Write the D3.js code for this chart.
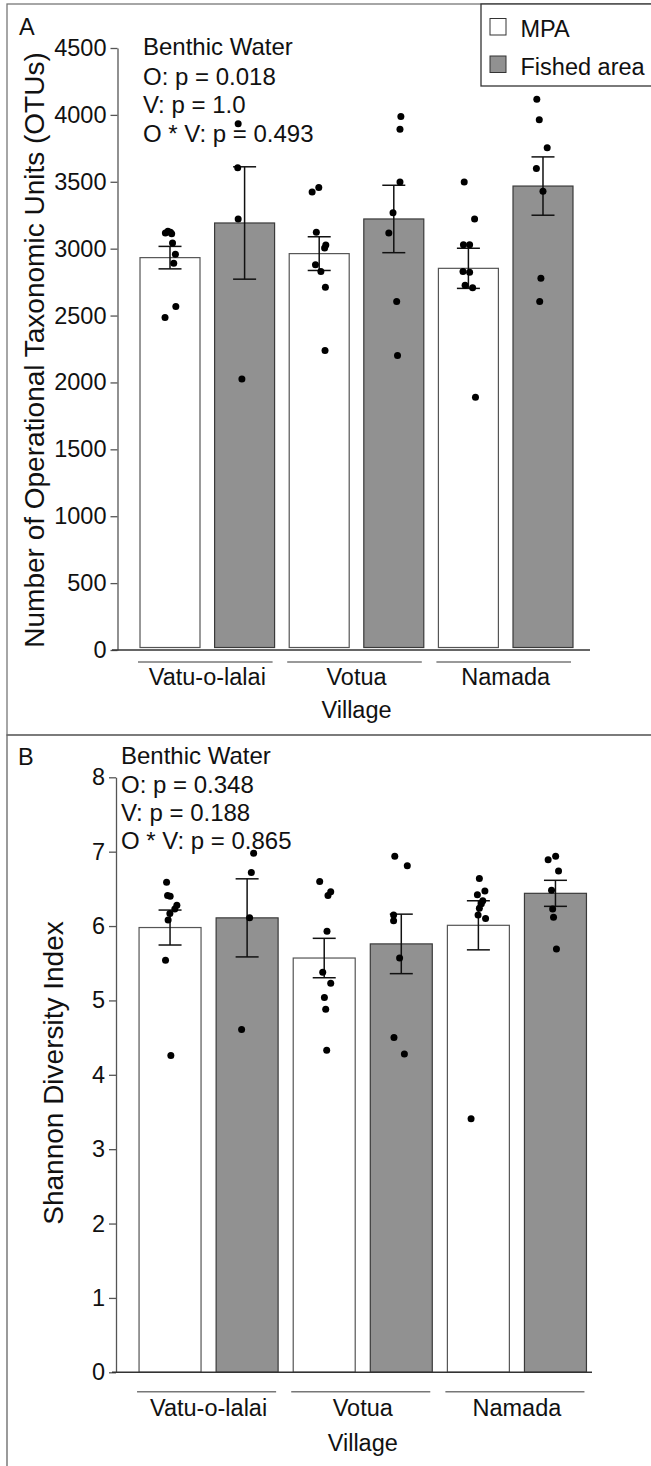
<!DOCTYPE html>
<html>
<head>
<meta charset="utf-8">
<script src="https://cdn.jsdelivr.net/npm/d3@7"></script>
<style>
  html, body { margin: 0; padding: 0; background: #fff; }
  svg { display: block; }
  text { font-family: "Liberation Sans", Arial, Helvetica, sans-serif; fill: #111; }
</style>
</head>
<body>
<svg id="fig" width="651" height="1466"></svg>
<script>
// ---- data -------------------------------------------------------------
const villages = ["Vatu-o-lalai", "Votua", "Namada"];
const sites = ["MPA", "Fished area"];

// Panel A: number of OTUs
const otuTicks = [0, 500, 1000, 1500, 2000, 2500, 3000, 3500, 4000, 4500];
const otuMeanMPA = [2933, 2963, 2853];
const otuMeanFished = [3192, 3222, 3468];
const otuSeMPA = [84, 126, 150];
const otuSeFished = [420, 252, 218];
const otuSamplesMPA = [
  [3117, 3122, 3130, 3112, 3043, 2958, 2891, 2567, 2485],
  [3423, 3457, 3122, 3028, 3005, 2880, 2830, 2711, 2238],
  [3498, 3222, 3030, 3030, 2829, 2824, 2727, 2707, 1890]
];
const otuSamplesFished = [
  [3933, 3605, 3222, 2025],
  [3988, 3893, 3498, 3269, 3117, 2605, 2201],
  [4117, 3963, 3754, 3599, 3430, 2779, 2605]
];
// horizontal jitter of the sample points, as a fraction of bar width
const otuJitterMPA = [
  [-0.077, 0.007, -0.035, 0.028, 0.042, 0.09, 0.062, 0.097, -0.083],
  [-0.118, -0.007, -0.048, 0.11, 0.09, -0.062, 0.028, 0.103, 0.097],
  [-0.07, 0.103, -0.083, 0.02, -0.09, 0.02, -0.055, 0.07, 0.118]
];
const otuJitterFished = [
  [-0.107, -0.115, -0.107, -0.045],
  [0.118, 0.103, 0.103, -0.013, -0.083, 0.048, 0.062],
  [-0.103, -0.062, 0.07, -0.11, 0, -0.035, -0.055]
];
const otuStats = ["Benthic Water", "O: p = 0.018", "V: p = 1.0", "O * V: p = 0.493"];

// Panel B: Shannon diversity
const shannonTicks = [0, 1, 2, 3, 4, 5, 6, 7, 8];
const shannonMeanMPA = [5.98, 5.57, 6.01];
const shannonMeanFished = [6.11, 5.76, 6.44];
const shannonSeMPA = [0.235, 0.265, 0.33];
const shannonSeFished = [0.525, 0.40, 0.175];
const shannonSamplesMPA = [
  [6.59, 6.41, 6.40, 6.28, 6.23, 6.17, 6.08, 5.54, 4.26],
  [6.60, 6.46, 6.41, 5.93, 5.38, 5.23, 5.04, 4.88, 4.33],
  [6.64, 6.47, 6.42, 6.34, 6.30, 6.24, 6.15, 6.10, 3.41]
];
const shannonSamplesFished = [
  [6.98, 6.72, 6.11, 4.61],
  [6.94, 6.81, 6.15, 6.07, 5.57, 4.50, 4.28],
  [6.94, 6.89, 6.74, 6.48, 6.23, 6.12, 5.69]
];
const shannonJitterMPA = [
  [-0.056, -0.04, 0.002, 0.11, 0.077, -0.003, -0.031, -0.073, 0.013],
  [-0.073, 0.105, 0.061, 0.045, -0.024, 0.105, 0.003, 0.024, 0.04],
  [0.016, 0.105, -0.016, 0.071, 0.048, 0.016, -0.005, 0.116, -0.118]
];
const shannonJitterFished = [
  [0.105, 0.068, 0.04, -0.089],
  [-0.105, 0.097, -0.124, -0.124, -0.027, -0.118, 0.05],
  [0.003, -0.118, 0.05, -0.063, -0.045, -0.031, 0.016]
];
const shannonStats = ["Benthic Water", "O: p = 0.348", "V: p = 0.188", "O * V: p = 0.865"];

// ---- drawing ----------------------------------------------------------
const svg = d3.select("#fig");
const FILL = { "MPA": "#ffffff", "Fished area": "#919191" };
const EDGE = { "MPA": "#555555", "Fished area": "#3a3a3a" };
const FONT = 23.5;

// outer frames of the two panels
svg.append("rect").attr("x", 7).attr("y", 4).attr("width", 700).attr("height", 731)
  .attr("fill", "none").attr("stroke", "#777").attr("stroke-width", 1.3);
svg.append("rect").attr("x", 7).attr("y", 735).attr("width", 700).attr("height", 800)
  .attr("fill", "none").attr("stroke", "#666").attr("stroke-width", 1.3);

function panel(cfg) {
  const g = svg.append("g");
  const y = d3.scaleLinear().domain(cfg.domain).range([cfg.yBottom, cfg.yTop]);
  const xv = d3.scaleBand().domain(villages).range(cfg.xRange).padding(0);
  const xs = d3.scaleBand().domain(sites).range([0, xv.bandwidth()])
    .paddingInner(0.1957).paddingOuter(0.098);
  const bw = xs.bandwidth();

  const groups = villages.map((v, i) => ({
    village: v,
    items: [
      { site: "MPA", mean: cfg.meanMPA[i], se: cfg.seMPA[i], pts: cfg.ptsMPA[i], jit: cfg.jitMPA[i] },
      { site: "Fished area", mean: cfg.meanF[i], se: cfg.seF[i], pts: cfg.ptsF[i], jit: cfg.jitF[i] }
    ]
  }));

  // bars
  const vg = g.selectAll("g.village").data(groups).join("g")
    .attr("class", "village")
    .attr("transform", d => `translate(${xv(d.village)},0)`);
  const item = vg.selectAll("g.item").data(d => d.items).join("g").attr("class", "item");
  item.append("rect")
    .attr("x", d => xs(d.site))
    .attr("y", d => y(d.mean))
    .attr("width", bw)
    .attr("height", d => y(0) - y(d.mean) - cfg.barGap)
    .attr("fill", d => FILL[d.site])
    .attr("stroke", d => EDGE[d.site])
    .attr("stroke-width", 1.2);

  // standard-error whiskers
  const cap = 11.5;
  item.each(function(d) {
    const cx = xs(d.site) + bw / 2;
    const s = d3.select(this);
    const lo = y(d.mean - d.se), hi = y(d.mean + d.se);
    s.append("line").attr("x1", cx).attr("x2", cx).attr("y1", lo).attr("y2", hi)
      .attr("stroke", "#111").attr("stroke-width", 1.5);
    [lo, hi].forEach(yy => s.append("line")
      .attr("x1", cx - cap).attr("x2", cx + cap).attr("y1", yy).attr("y2", yy)
      .attr("stroke", "#111").attr("stroke-width", 1.5));
  });

  // sample points
  item.each(function(d) {
    const cx = xs(d.site) + bw / 2;
    d3.select(this).selectAll("circle").data(d.pts.map((v, k) => ({ v, j: d.jit[k] })))
      .join("circle")
      .attr("cx", p => cx + p.j * bw)
      .attr("cy", p => y(p.v))
      .attr("r", 3.5)
      .attr("fill", "#000");
  });

  // y axis
  const ax = g.append("g").attr("transform", `translate(${cfg.axisX},0)`)
    .call(d3.axisLeft(y).tickValues(cfg.ticks).tickSize(7).tickSizeOuter(0).tickPadding(4)
      .tickFormat(d3.format("d")));
  ax.select(".domain").attr("stroke", "#555").attr("stroke-width", 1.3);
  ax.selectAll(".tick line").attr("stroke", "#555").attr("stroke-width", 1.3);
  ax.selectAll(".tick text").attr("font-size", FONT).attr("fill", "#111")
    .attr("font-family", "Liberation Sans, Arial, sans-serif");

  // x baseline
  g.append("line").attr("x1", cfg.xLine[0]).attr("x2", cfg.xLine[1])
    .attr("y1", y(0)).attr("y2", y(0)).attr("stroke", "#333").attr("stroke-width", 1.5);

  // village underlines and labels
  vg.append("line")
    .attr("x1", xs("MPA") - 2)
    .attr("x2", xs("Fished area") + bw - 2)
    .attr("y1", cfg.groupLineY).attr("y2", cfg.groupLineY)
    .attr("stroke", "#777").attr("stroke-width", 1.5);
  vg.append("text")
    .attr("x", xv.bandwidth() / 2)
    .attr("y", cfg.catBaseline)
    .attr("text-anchor", "middle")
    .attr("font-size", FONT)
    .text(d => d.village);

  g.append("text")
    .attr("x", xv("Votua") + xv.bandwidth() / 2)
    .attr("y", cfg.villageBaseline)
    .attr("text-anchor", "middle")
    .attr("font-size", FONT)
    .text("Village");

  // y title
  g.append("text")
    .attr("transform", `translate(${cfg.titleX},${cfg.titleY}) rotate(-90)`)
    .attr("text-anchor", "middle")
    .attr("font-size", cfg.titleSize)
    .text(cfg.title);

  // panel letter
  g.append("text").attr("x", cfg.letterX).attr("y", cfg.letterY)
    .attr("font-size", FONT).text(cfg.letter);

  // statistics block
  cfg.stats.forEach((s, i) => {
    g.append("text")
      .attr("x", cfg.statsX[i]).attr("y", cfg.statsY[i])
      .attr("font-size", 24)
      .text(s);
  });
}

panel({
  domain: [0, 4500], ticks: otuTicks, yTop: 48, yBottom: 650, barGap: 2.5,
  xRange: [132.7, 580.3], axisX: 117.5, xLine: [112, 590],
  groupLineY: 662, catBaseline: 685, villageBaseline: 718,
  meanMPA: otuMeanMPA, meanF: otuMeanFished, seMPA: otuSeMPA, seF: otuSeFished,
  ptsMPA: otuSamplesMPA, ptsF: otuSamplesFished, jitMPA: otuJitterMPA, jitF: otuJitterFished,
  title: "Number of Operational Taxonomic Units (OTUs)", titleX: 44, titleY: 350, titleSize: 28,
  letter: "A", letterX: 19, letterY: 35,
  stats: otuStats, statsX: [143, 143, 143, 143], statsY: [55, 85, 113.3, 141.7]
});

panel({
  domain: [0, 8], ticks: shannonTicks, yTop: 777.3, yBottom: 1372.3, barGap: 0,
  xRange: [131.5, 594], axisX: 116, xLine: [112, 592],
  groupLineY: 1391.7, catBaseline: 1416, villageBaseline: 1451,
  meanMPA: shannonMeanMPA, meanF: shannonMeanFished, seMPA: shannonSeMPA, seF: shannonSeFished,
  ptsMPA: shannonSamplesMPA, ptsF: shannonSamplesFished, jitMPA: shannonJitterMPA, jitF: shannonJitterFished,
  title: "Shannon Diversity Index", titleX: 63, titleY: 1073, titleSize: 28,
  letter: "B", letterX: 18, letterY: 765,
  stats: shannonStats, statsX: [121, 121, 121, 121], statsY: [764, 793, 821, 849]
});

// legend
const lg = svg.append("g");
lg.append("rect").attr("x", 481).attr("y", 4).attr("width", 220).attr("height", 82)
  .attr("fill", "#fff").attr("stroke", "#333").attr("stroke-width", 1.3);
sites.forEach((s, i) => {
  lg.append("rect").attr("x", 490).attr("y", 18.5 + i * 37.5).attr("width", 16).attr("height", 16.5)
    .attr("fill", FILL[s]).attr("stroke", "#333").attr("stroke-width", 1);
  lg.append("text").attr("x", 520.5).attr("y", 36.5 + i * 38.5).attr("font-size", FONT).text(s);
});
</script>
</body>
</html>
